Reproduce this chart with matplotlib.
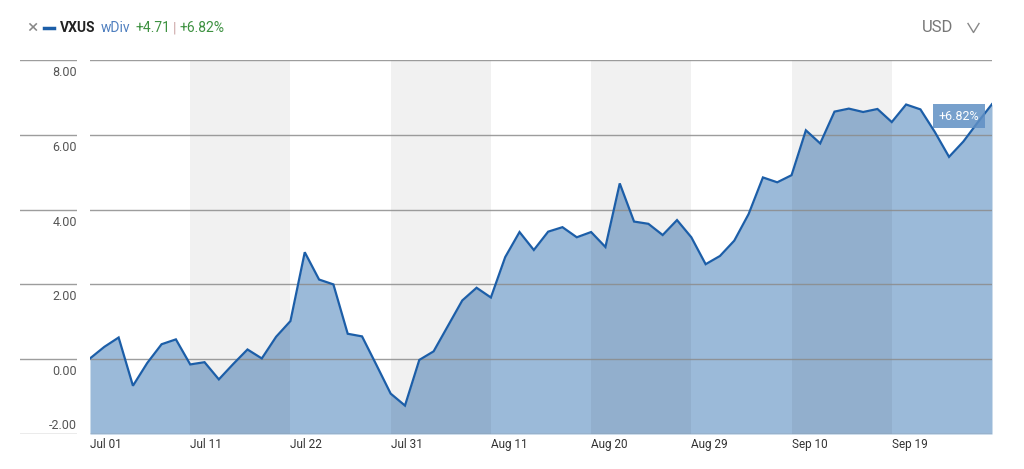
import matplotlib
matplotlib.use("Agg")
import matplotlib.pyplot as plt
from matplotlib.lines import Line2D

# Data: cumulative % growth of VXUS (with dividends), one point per trading day
values = [0.02, 0.33, 0.58, -0.71, -0.10, 0.40, 0.53, -0.14, -0.08, -0.54,
          -0.13, 0.26, 0.02, 0.60, 1.02, 2.86, 2.13, 2.00, 0.68, 0.61,
          -0.15, -0.92, -1.24, -0.02, 0.21, 0.89, 1.57, 1.91, 1.65, 2.73,
          3.40, 2.92, 3.41, 3.53, 3.26, 3.40, 3.00, 4.70, 3.68, 3.62,
          3.32, 3.72, 3.26, 2.54, 2.76, 3.17, 3.88, 4.86, 4.73, 4.92,
          6.12, 5.77, 6.62, 6.70, 6.61, 6.69, 6.34, 6.81, 6.68, 6.08,
          5.41, 5.82, 6.33, 6.82]
days = list(range(len(values)))
tick_pos = [0, 7, 14, 21, 28, 35, 42, 49, 56]
tick_labels = ["Jul 01", "Jul 11", "Jul 22", "Jul 31", "Aug 11",
               "Aug 20", "Aug 29", "Sep 10", "Sep 19"]
y_ticks = [8, 6, 4, 2, 0, -2]
last_label = "+6.82%"

W, H = 1024, 469
font = ["Liberation Sans Narrow", "Roboto", "DejaVu Sans"]
plt.rcParams['font.family'] = font

fig = plt.figure(figsize=(W / 100, H / 100), dpi=100)

bottom = (H - 434) / H
height = 374 / H
ax = fig.add_axes([90 / W, bottom, 902 / W, height])
ax.set_xlim(0, days[-1])
ax.set_ylim(-2, 8)

line_c = "#1c5ea8"
fill_c = "#9bbad9"
grid_c = "#8c8c8c"

ax.fill_between(days, values, -2, color=fill_c, lw=0, zorder=1)
# alternating shaded bands
for k in range(1, len(tick_pos), 2):
    x0 = tick_pos[k]
    x1 = tick_pos[k + 1] if k + 1 < len(tick_pos) else days[-1]
    ax.axvspan(x0, x1, color="black", alpha=0.055, lw=0, zorder=2)
for yv in y_ticks:
    ax.axhline(yv, color=grid_c, lw=1, alpha=0.85, zorder=3)
ax.plot(days, values, color=line_c, lw=1.6, zorder=4, solid_joinstyle="miter")

ax.annotate(last_label, xy=(days[-1], values[-1]), xytext=(-33, -12),
            textcoords="offset pixels", ha="center", va="center",
            color="white", fontsize=9, zorder=5,
            bbox=dict(boxstyle="square,pad=0.45", fc="#5f8fc4", ec="none", alpha=0.85))

ax.set_xticks(tick_pos)
ax.set_xticklabels(tick_labels, ha="left", fontsize=8.5, color="#333333")
ax.tick_params(axis="x", length=0, pad=3)
ax.set_yticks([])
for s in ax.spines.values():
    s.set_visible(False)

# label column with its own gridlines
lab = fig.add_axes([20 / W, bottom, 57 / W, height])
lab.set_xlim(0, 1)
lab.set_ylim(-2, 8)
lab.axis("off")
for yv in y_ticks:
    lab.axhline(yv, color=grid_c, lw=1, alpha=0.85)
    if yv == -2:
        lab.annotate("%.2f" % yv, xy=(1, yv), xytext=(0, 2), textcoords="offset pixels",
                     ha="right", va="bottom", fontsize=9, color="#555555")
    else:
        lab.annotate("%.2f" % yv, xy=(1, yv), xytext=(0, -6), textcoords="offset pixels",
                     ha="right", va="top", fontsize=9, color="#555555")

# header
hy = (H - 28) / H
fig.text(27 / W, hy, "×", fontsize=14, color="#888888", va="center")
fig.add_artist(Line2D([44 / W, 54 / W], [hy, hy], color="#1c5ea8", lw=2.5))
fig.text(60 / W, hy, "VXUS", fontsize=10, fontweight="bold", color="#222222", va="center")
fig.text(101 / W, hy, "wDiv", fontsize=10, color="#4f7fbf", va="center")
fig.text(136 / W, hy, "+4.71", fontsize=10, color="#3d9140", va="center")
fig.text(172.5 / W, hy, "|", fontsize=10, color="#c9a0a0", va="center")
fig.text(179 / W, hy, "+6.82%", fontsize=10, color="#3d9140", va="center")
fig.text(922 / W, hy, "USD", fontsize=12, color="#777777", va="center")
fig.add_artist(Line2D([968 / W, 973.5 / W, 979 / W],
                      [(H - 23.5) / H, (H - 32.5) / H, (H - 23.5) / H],
                      color="#888888", lw=1))

fig.savefig("out.png", dpi=100)
